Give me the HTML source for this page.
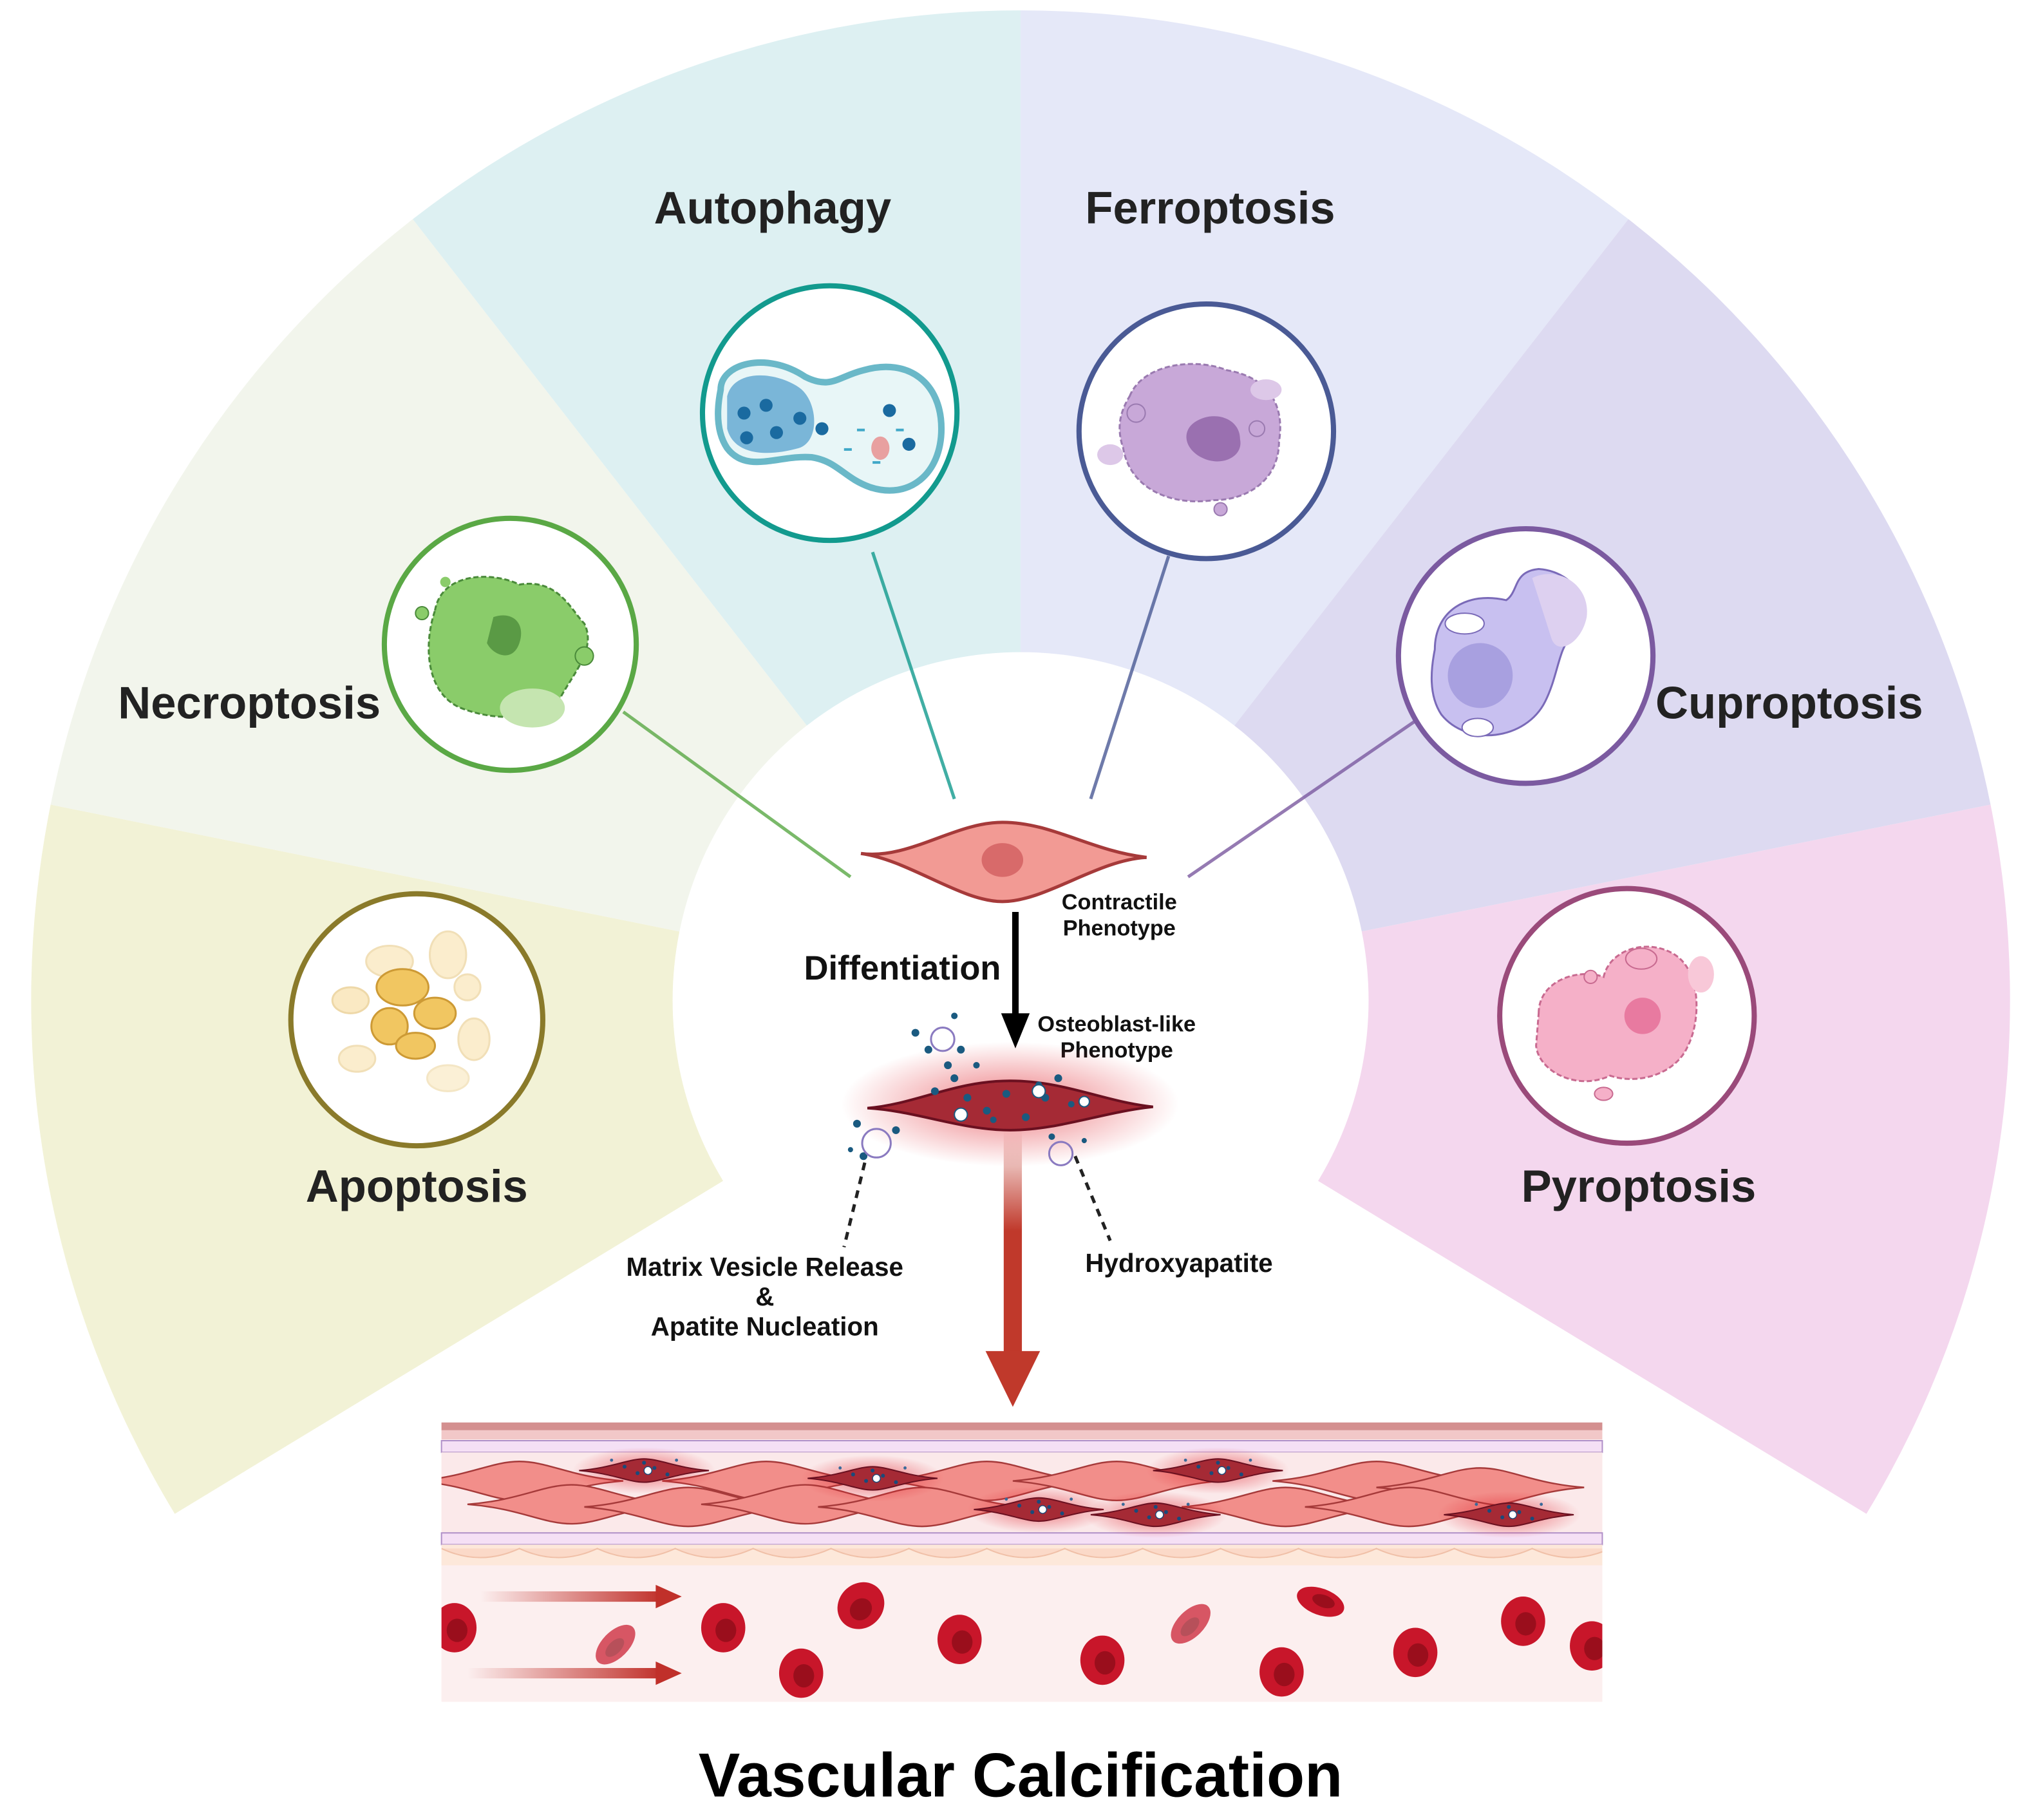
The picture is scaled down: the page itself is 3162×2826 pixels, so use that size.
<!DOCTYPE html>
<html><head><meta charset="utf-8"><style>
html,body{margin:0;padding:0;background:#fff}
svg{display:block}
text{font-family:"Liberation Sans",Arial,sans-serif;font-weight:bold}
</style></head><body>
<svg width="3162" height="2826" viewBox="0 0 1568 1401" preserveAspectRatio="none" xmlns="http://www.w3.org/2000/svg">
<defs>
<clipPath id="vc"><rect x="340" y="1095" width="894" height="215"/></clipPath>
<path id="sp" d="M-80,0 C-40,-3 -22,-15 0,-15 C22,-15 40,-3 80,0 C40,3 22,15 0,15 C-22,15 -40,3 -80,0Z"/>
<radialGradient id="glow" cx="0.5" cy="0.5" r="0.5">
<stop offset="0" stop-color="#e0202a" stop-opacity="0.6"/><stop offset="1" stop-color="#e0202a" stop-opacity="0"/></radialGradient>
<linearGradient id="redarr" x1="0" y1="0" x2="0" y2="1">
<stop offset="0" stop-color="#c0392b" stop-opacity="0"/><stop offset="0.45" stop-color="#c0392b"/><stop offset="1" stop-color="#c0392b"/></linearGradient>
<linearGradient id="hr" x1="0" y1="0" x2="1" y2="0">
<stop offset="0" stop-color="#c0302a" stop-opacity="0"/><stop offset="1" stop-color="#c0302a"/></linearGradient>
<linearGradient id="lA" x1="0" x2="1"><stop offset="0" stop-color="#8a7a2a"/><stop offset="1" stop-color="#8a7a2a" stop-opacity="0"/></linearGradient>
<linearGradient id="lP" x1="1" x2="0"><stop offset="0" stop-color="#9a4a7a"/><stop offset="1" stop-color="#9a4a7a" stop-opacity="0"/></linearGradient>
<g id="rbc"><ellipse rx="17" ry="19" fill="#c8162a"/><ellipse cx="2" cy="2" rx="8" ry="9" fill="#9a0e1c"/></g>
<g id="osteo"><ellipse rx="55" ry="18" fill="url(#glow)"/><path d="M-50,0 C-25,-2 -12,-9 0,-9 C12,-9 25,-2 50,0 C25,2 12,9 0,9 C-12,9 -25,2 -50,0Z" fill="#a52a35" stroke="#6a1020" stroke-width="1"/>
<circle cx="-15" cy="-3" r="1.5" fill="#1a4a7a"/><circle cx="-5" cy="2" r="1.5" fill="#1a4a7a"/><circle cx="8" cy="-2" r="1.5" fill="#1a4a7a"/><circle cx="18" cy="3" r="1.5" fill="#1a4a7a"/><circle cx="0" cy="-6" r="1.5" fill="#1a4a7a"/><circle cx="-25" cy="-8" r="1.2" fill="#3a6a9a"/><circle cx="25" cy="-8" r="1.2" fill="#3a6a9a"/><circle cx="3" cy="0" r="3" fill="#fff" stroke="#1a4a7a" stroke-width="0.7"/></g>
</defs>

<path d="M786,770 L134.6,1165.3 A762,762 0 0 1 39,619.4 Z" fill="#f2f2d6"/>
<path d="M786,770 L39,619.4 A762,762 0 0 1 317.9,168.7 Z" fill="#f2f5ec"/>
<path d="M786,770 L317.9,168.7 A762,762 0 0 1 786,8 Z" fill="#ddf0f2"/>
<path d="M786,770 L786,8 A762,762 0 0 1 1254.1,168.7 Z" fill="#e5e8f8"/>
<path d="M786,770 L1254.1,168.7 A762,762 0 0 1 1533,619.4 Z" fill="#dddaf1"/>
<path d="M786,770 L1533,619.4 A762,762 0 0 1 1437.4,1165.3 Z" fill="#f4d7ee"/>
<circle cx="786" cy="770" r="268" fill="#fff"/>

<line x1="418" y1="773" x2="630" y2="773" stroke="url(#lA)" stroke-width="3"/>
<line x1="1155" y1="773" x2="945" y2="773" stroke="url(#lP)" stroke-width="3"/>
<path d="M480,548 L655,675" stroke="#5aa845" stroke-width="2.5" opacity="0.8"/>
<path d="M1090,555 L915,675" stroke="#7b5aa0" stroke-width="2.5" opacity="0.8"/>
<path d="M672,425 L735,615" stroke="#129a8e" stroke-width="2.5" opacity="0.8"/>
<path d="M900,428 L840,615" stroke="#4a5a95" stroke-width="2.5" opacity="0.8"/>

<g>
<circle cx="321" cy="785" r="97" fill="#fff" stroke="#8a7a2a" stroke-width="4"/>
<g fill="#f5d690" stroke="#e0b860" stroke-width="1.5" opacity="0.9">
<ellipse cx="300" cy="740" rx="18" ry="12" opacity="0.5"/><ellipse cx="345" cy="735" rx="14" ry="18" opacity="0.5"/><ellipse cx="270" cy="770" rx="14" ry="10" opacity="0.6"/>
<ellipse cx="310" cy="760" rx="20" ry="14" fill="#f0c050" stroke="#c89020"/><ellipse cx="335" cy="780" rx="16" ry="12" fill="#f0c050" stroke="#c89020"/><ellipse cx="300" cy="790" rx="14" ry="14" fill="#f0c050" stroke="#c89020"/><ellipse cx="320" cy="805" rx="15" ry="10" fill="#f0c050" stroke="#c89020"/>
<ellipse cx="365" cy="800" rx="12" ry="16" opacity="0.5"/><ellipse cx="275" cy="815" rx="14" ry="10" opacity="0.5"/><ellipse cx="345" cy="830" rx="16" ry="10" opacity="0.4"/><ellipse cx="360" cy="760" rx="10" ry="10" opacity="0.5"/></g>

<circle cx="393" cy="496" r="97" fill="#fff" stroke="#5aa845" stroke-width="4"/>
<path d="M335,470 C340,440 380,440 400,450 C430,445 440,470 450,480 C460,500 440,520 430,540 C415,555 380,555 355,545 C330,535 325,500 335,470Z" fill="#8acc6a" stroke="#4a8a3a" stroke-width="1.5" stroke-dasharray="4 2"/>
<ellipse cx="410" cy="545" rx="25" ry="15" fill="#c5e5b0"/><path d="M380,475 C395,470 405,480 400,495 C395,510 380,505 375,495Z" fill="#5a9a45"/>
<circle cx="450" cy="505" r="7" fill="#8acc6a" stroke="#4a8a3a"/><circle cx="325" cy="472" r="5" fill="#8acc6a" stroke="#4a8a3a"/><circle cx="343" cy="448" r="4" fill="#8acc6a"/>

<circle cx="639" cy="318" r="98" fill="#fff" stroke="#129a8e" stroke-width="4"/>
<path d="M555,300 C555,280 590,270 620,290 C640,300 645,290 665,285 C700,275 725,295 725,330 C725,365 700,385 670,375 C650,368 645,355 625,352 C600,350 575,365 560,345 C550,330 553,310 555,300Z" fill="#e8f6f7" stroke="#6ab8c8" stroke-width="5"/>
<path d="M560,305 C565,285 595,285 615,298 C630,308 632,340 615,345 C590,352 565,350 560,330Z" fill="#7ab6d8"/>
<g fill="#1a6aa0"><circle cx="573" cy="318" r="5"/><circle cx="590" cy="312" r="5"/><circle cx="575" cy="337" r="5"/><circle cx="598" cy="333" r="5"/><circle cx="616" cy="322" r="5"/><circle cx="633" cy="330" r="5"/><circle cx="685" cy="316" r="5"/><circle cx="700" cy="342" r="5"/></g>
<g fill="#40a8c8"><rect x="660" y="330" width="6" height="2"/><rect x="672" y="355" width="6" height="2"/><rect x="690" y="330" width="6" height="2"/><rect x="650" y="345" width="6" height="2"/></g>
<ellipse cx="678" cy="345" rx="7" ry="9" fill="#e8a0a0"/>

<circle cx="929" cy="332" r="98" fill="#fff" stroke="#4a5a95" stroke-width="4"/>
<path d="M870,305 C880,280 920,275 945,285 C975,290 990,310 985,340 C985,370 960,385 935,385 C900,390 870,375 865,345 C860,330 862,318 870,305Z" fill="#c8a8d8" stroke="#9a7ab0" stroke-width="1.5" stroke-dasharray="4 2"/>
<path d="M920,325 C935,315 955,322 955,338 C958,352 940,360 925,352 C912,345 910,332 920,325Z" fill="#9a70b0"/>
<ellipse cx="855" cy="350" rx="10" ry="8" fill="#ddc8e8"/><ellipse cx="975" cy="300" rx="12" ry="8" fill="#ddc8e8"/><circle cx="875" cy="318" r="7" fill="#c8a8d8" stroke="#9a7ab0"/><circle cx="968" cy="330" r="6" fill="#c8a8d8" stroke="#9a7ab0"/><circle cx="940" cy="392" r="5" fill="#c8a8d8" stroke="#9a7ab0"/>

<circle cx="1175" cy="505" r="98" fill="#fff" stroke="#7b5aa0" stroke-width="4"/>
<path d="M1105,500 C1105,470 1130,455 1160,462 C1170,455 1165,440 1185,438 C1215,440 1230,470 1210,490 C1200,500 1200,520 1190,540 C1175,570 1130,575 1110,550 C1100,535 1102,515 1105,500Z" fill="#c8c0f0" stroke="#7a6ab8" stroke-width="1.5"/>
<path d="M1180,445 C1200,435 1225,450 1222,475 C1218,495 1200,505 1195,492Z" fill="#ddd0f0"/>
<circle cx="1140" cy="520" r="25" fill="#a8a0e0"/><ellipse cx="1128" cy="480" rx="15" ry="8" fill="#fff" stroke="#7a6ab8"/><ellipse cx="1138" cy="560" rx="12" ry="7" fill="#fff" stroke="#7a6ab8"/>

<circle cx="1253" cy="782" r="98" fill="#fff" stroke="#9a4a7a" stroke-width="4"/>
<path d="M1185,780 C1185,755 1215,745 1235,752 C1240,730 1270,722 1290,735 C1310,748 1310,785 1300,805 C1290,828 1260,835 1240,828 C1215,840 1185,825 1183,805Z" fill="#f5b0c8" stroke="#c86a90" stroke-width="1.5" stroke-dasharray="4 2"/>
<circle cx="1265" cy="782" r="14" fill="#e87aa0"/><ellipse cx="1264" cy="738" rx="12" ry="8" fill="#f5b0c8" stroke="#c86a90"/><circle cx="1225" cy="752" r="5" fill="#f5b0c8" stroke="#c86a90"/><ellipse cx="1235" cy="842" rx="7" ry="5" fill="#f5b0c8" stroke="#c86a90"/><ellipse cx="1310" cy="750" rx="10" ry="14" fill="#f8c8d8"/>
</g>

<g font-size="35" fill="#222" text-anchor="middle">
<text x="595" y="172">Autophagy</text>
<text x="932" y="172">Ferroptosis</text>
<text x="192" y="553">Necroptosis</text>
<text x="1378" y="553">Cuproptosis</text>
<text x="321" y="925">Apoptosis</text>
<text x="1262" y="925">Pyroptosis</text>
</g>

<path d="M663,657 C700,662 735,633 772,633 C810,633 840,655 883,660 C845,662 805,694 772,694 C740,694 700,662 663,657Z" fill="#f29a94" stroke="#a63a3a" stroke-width="2.5"/>
<ellipse cx="772" cy="662" rx="16" ry="13" fill="#d86a6a"/>
<text x="862" y="700" font-size="17" text-anchor="middle" fill="#111">Contractile</text>
<text x="862" y="720" font-size="17" text-anchor="middle" fill="#111">Phenotype</text>
<line x1="782" y1="702" x2="782" y2="782" stroke="#000" stroke-width="5"/>
<path d="M771,780 L793,780 L782,807Z" fill="#000"/>
<text x="695" y="754" font-size="26" text-anchor="middle" fill="#111">Diffentiation</text>
<text x="860" y="794" font-size="17" text-anchor="middle" fill="#111">Osteoblast-like</text>
<text x="860" y="814" font-size="17" text-anchor="middle" fill="#111">Phenotype</text>

<ellipse cx="778" cy="850" rx="130" ry="48" fill="url(#glow)"/>
<path d="M668,853 C705,850 735,832 778,832 C820,832 850,848 888,852 C850,856 815,870 778,870 C740,870 705,855 668,853Z" fill="#a52a35" stroke="#6a1020" stroke-width="2"/>
<g fill="#1a5a80">
<circle cx="720" cy="840" r="3"/><circle cx="735" cy="830" r="3"/><circle cx="745" cy="845" r="3"/><circle cx="760" cy="855" r="3"/><circle cx="775" cy="842" r="3"/><circle cx="790" cy="860" r="3"/><circle cx="805" cy="845" r="3"/><circle cx="815" cy="830" r="3"/><circle cx="730" cy="820" r="3"/><circle cx="740" cy="808" r="3"/><circle cx="752" cy="820" r="2.5"/><circle cx="765" cy="862" r="2.5"/><circle cx="800" cy="835" r="2.5"/><circle cx="825" cy="850" r="2.5"/><circle cx="715" cy="808" r="3"/><circle cx="735" cy="782" r="2.5"/><circle cx="705" cy="795" r="3"/><circle cx="660" cy="865" r="3"/><circle cx="665" cy="890" r="3"/><circle cx="690" cy="870" r="3"/><circle cx="655" cy="885" r="2"/><circle cx="810" cy="875" r="2.5"/><circle cx="835" cy="878" r="2"/></g>
<circle cx="726" cy="800" r="9" fill="none" stroke="#8a7ac0" stroke-width="1.5"/>
<circle cx="675" cy="880" r="11" fill="none" stroke="#8a7ac0" stroke-width="1.5"/>
<circle cx="817" cy="888" r="9" fill="none" stroke="#8a7ac0" stroke-width="1.5"/>
<circle cx="740" cy="858" r="5" fill="#fff" stroke="#1a5a80"/><circle cx="800" cy="840" r="5" fill="#fff" stroke="#1a5a80"/><circle cx="835" cy="848" r="4" fill="#fff" stroke="#1a5a80"/>
<line x1="666" y1="895" x2="650" y2="960" stroke="#222" stroke-width="2.5" stroke-dasharray="6 5"/>
<line x1="828" y1="890" x2="855" y2="955" stroke="#222" stroke-width="2.5" stroke-dasharray="6 5"/>
<rect x="773" y="870" width="14" height="172" fill="url(#redarr)"/>
<path d="M759,1040 L801,1040 L780,1083Z" fill="#c0392b"/>
<g font-size="20" text-anchor="middle" fill="#111">
<text x="589" y="982">Matrix Vesicle Release</text>
<text x="589" y="1005">&amp;</text>
<text x="589" y="1028">Apatite Nucleation</text>
<text x="908" y="979">Hydroxyapatite</text>
</g>

<rect x="340" y="1095" width="894" height="215" fill="#fcefef"/>
<rect x="340" y="1095" width="894" height="6" fill="#d49090"/>
<rect x="340" y="1101" width="894" height="7" fill="#f2c8c8"/>
<rect x="340" y="1109" width="894" height="9" fill="#f5e0f5" stroke="#b090c8" stroke-width="1"/>
<rect x="340" y="1118" width="894" height="62" fill="#fbe9ea"/>
<rect x="340" y="1180" width="894" height="9" fill="#f5e0f5" stroke="#b090c8" stroke-width="1"/>
<rect x="340" y="1189" width="894" height="16" fill="#fde8da"/>
<g clip-path="url(#vc)">
<path d="M340,1192 q30,14 60,0 q30,14 60,0 q30,14 60,0 q30,14 60,0 q30,14 60,0 q30,14 60,0 q30,14 60,0 q30,14 60,0 q30,14 60,0 q30,14 60,0 q30,14 60,0 q30,14 60,0 q30,14 60,0 q30,14 60,0 q30,14 60,0" fill="#fbd9c8" stroke="#f0c0a8" stroke-width="1"/>
<g fill="#f28e8a" stroke="#a63a3a" stroke-width="1.2">
<use href="#sp" x="400" y="1140"/><use href="#sp" x="590" y="1140"/><use href="#sp" x="760" y="1140"/><use href="#sp" x="860" y="1140"/><use href="#sp" x="1060" y="1140"/><use href="#sp" x="1140" y="1145"/>
<use href="#sp" x="440" y="1158"/><use href="#sp" x="530" y="1160"/><use href="#sp" x="620" y="1158"/><use href="#sp" x="710" y="1160"/><use href="#sp" x="990" y="1160"/><use href="#sp" x="1085" y="1160"/>
</g>
<use href="#osteo" x="496" y="1132"/><use href="#osteo" x="672" y="1138"/><use href="#osteo" x="938" y="1132"/>
<use href="#osteo" x="800" y="1162"/><use href="#osteo" x="890" y="1166"/><use href="#osteo" x="1162" y="1166"/>
</g>
<rect x="340" y="1205" width="894" height="105" fill="#fcefef"/>
<rect x="370" y="1225" width="140" height="8" fill="url(#hr)"/><path d="M505,1220 L525,1229 L505,1238Z" fill="#c0302a"/>
<rect x="360" y="1284" width="150" height="8" fill="url(#hr)"/><path d="M505,1279 L525,1288 L505,1297Z" fill="#c0302a"/>
<g clip-path="url(#vc)">
<use href="#rbc" x="350" y="1253"/><use href="#rbc" x="557" y="1253"/><use href="#rbc" x="617" y="1288"/><use href="#rbc" x="739" y="1262"/><use href="#rbc" x="849" y="1278"/><use href="#rbc" x="987" y="1287"/><use href="#rbc" x="1090" y="1272"/><use href="#rbc" x="1173" y="1248"/><use href="#rbc" x="1226" y="1267"/>
<g transform="translate(663,1236) rotate(45)"><use href="#rbc"/></g>
<g transform="translate(1017,1233) rotate(-70) scale(0.6,1)"><use href="#rbc"/></g>
<g transform="translate(474,1266) rotate(45) scale(0.6,1)" opacity="0.7"><use href="#rbc"/></g>
<g transform="translate(917,1250) rotate(45) scale(0.6,1)" opacity="0.7"><use href="#rbc"/></g>
</g>

<text x="786" y="1383" font-size="48" text-anchor="middle" fill="#000">Vascular Calcification</text>
</svg>
</body></html>
